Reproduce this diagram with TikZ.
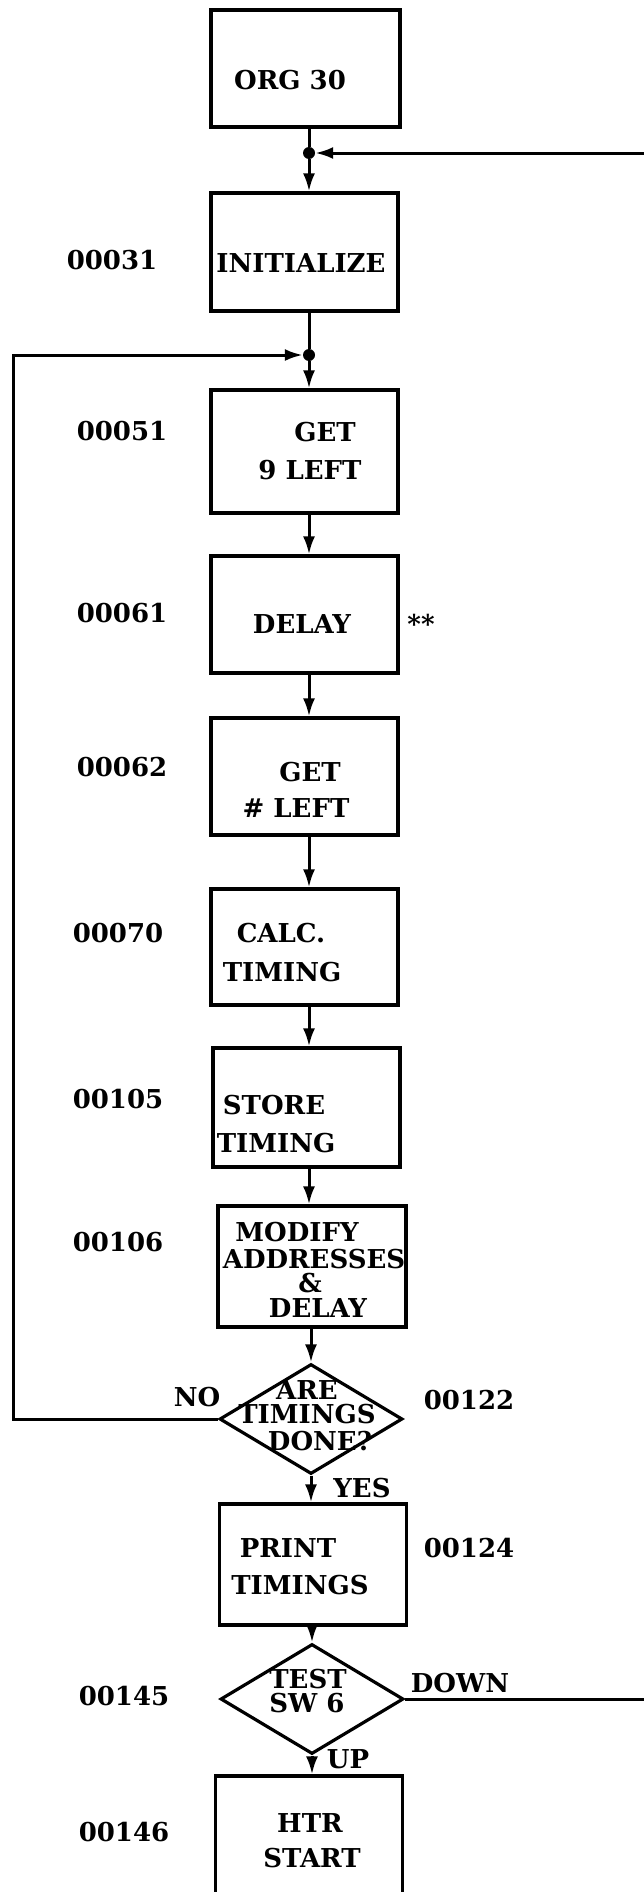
\documentclass[tikz,border=0pt]{standalone}
\usepackage{fontspec}
\setmainfont{DejaVu Serif}
\usetikzlibrary{arrows.meta,shapes.geometric}
\tikzset{
  box/.style={draw, line width=3.2pt, rectangle, inner sep=0pt},
  dia/.style={draw, line width=3.2pt, diamond, inner sep=0pt, minimum width=183pt, minimum height=110pt},
  tx/.style={font=\bfseries\fontsize{26}{26}\selectfont, inner sep=0pt},
  line/.style={line width=3pt},
  arr/.style={line width=3pt, -{Latex[length=18pt,width=12pt]}},
  jdot/.style={circle, fill, inner sep=0pt, minimum size=12pt},
}
\begin{document}
\begin{tikzpicture}[x=1pt,y=-1pt]
\useasboundingbox (0,0) rectangle (644,1892);
\coordinate (col) at (309,0);
% boxes
\node[box, minimum width=189pt, minimum height=117pt] (org) at (305.5,68.5) {};
\node[box, minimum width=187pt, minimum height=118pt] (init) at (304.5,252) {};
\node[box, minimum width=187pt, minimum height=123pt] (get9) at (304.5,451.5) {};
\node[box, minimum width=187pt, minimum height=117pt] (delay) at (304.5,614.5) {};
\node[box, minimum width=187pt, minimum height=117pt] (gethash) at (304.5,776.5) {};
\node[box, minimum width=187pt, minimum height=116pt] (calc) at (304.5,947) {};
\node[box, minimum width=187pt, minimum height=119pt] (store) at (306.5,1107.5) {};
\node[box, minimum width=188pt, minimum height=121pt] (modify) at (312,1266.5) {};
\node[dia] (d1) at (311,1419) {};
\node[box, minimum width=187pt, minimum height=121pt] (print) at (313,1564.5) {};
\node[dia] (d2) at (312,1699) {};
\node[box, minimum width=187pt, minimum height=124pt] (htr) at (309,1838) {};
% junctions
\node[jdot] (dot1) at (309,153) {};
\node[jdot] (dot2) at (309,355) {};
\coordinate (lft) at (13,355);
\coordinate (redge1) at (650,153);
\coordinate (redge2) at (650,1699);
% texts
\node[tx] (t1) at (290,80) {ORG 30};
\node[tx] (t2) at (301,263) {INITIALIZE};
\node[tx] (t3a) at (325,432) {GET};
\node[tx] (t3b) at (310,470) {9 LEFT};
\node[tx] (t4) at (302,624) {DELAY};
\node[tx] (t4s) at (421,624) {**};
\node[tx] (t5a) at (310,772) {GET};
\node[tx] (t5b) at (296,808) {\# LEFT};
\node[tx] (t6a) at (281,933) {CALC.};
\node[tx] (t6b) at (282,972) {TIMING};
\node[tx] (t7a) at (274,1105) {STORE};
\node[tx] (t7b) at (276,1143) {TIMING};
\node[tx] (t8a) at (297,1232) {MODIFY};
\node[tx] (t8b) at (314,1259) {ADDRESSES};
\node[tx] (t8c) at (310,1283) {\&};
\node[tx] (t8d) at (318,1308) {DELAY};
\node[tx] (t9a) at (307,1390) {ARE};
\node[tx] (t9b) at (307,1414) {TIMINGS};
\node[tx] (t9c) at (320,1441) {DONE?};
\node[tx] (t10a) at (288,1548) {PRINT};
\node[tx] (t10b) at (300,1585) {TIMINGS};
\node[tx] (t11a) at (308,1679) {TEST};
\node[tx] (t11b) at (307,1703) {SW 6};
\node[tx] (t12a) at (310,1823) {HTR};
\node[tx] (t12b) at (312,1858) {START};
% addresses and branch labels
\node[tx] (a1) at (112,260) {00031};
\node[tx] (a2) at (122,431) {00051};
\node[tx] (a3) at (122,613) {00061};
\node[tx] (a4) at (122,767) {00062};
\node[tx] (a5) at (118,933) {00070};
\node[tx] (a6) at (118,1099) {00105};
\node[tx] (a7) at (118,1242) {00106};
\node[tx] (a8) at (469,1400) {00122};
\node[tx] (a9) at (469,1548) {00124};
\node[tx] (a10) at (124,1696) {00145};
\node[tx] (a11) at (124,1832) {00146};
\node[tx] (no) at (197,1397) {NO};
\node[tx] (yes) at (362,1488) {YES};
\node[tx] (down) at (460,1683) {DOWN};
\node[tx] (up) at (348,1759) {UP};
% connectors
\draw[line] (org.south -| col) -- (dot1);
\draw[arr] (redge1) -- (dot1);
\draw[arr] (dot1) -- (init.north -| col);
\draw[line] (init.south -| col) -- (dot2);
\draw[arr] (dot2) -- (get9.north -| col);
\draw[arr] (get9.south -| col) -- (delay.north -| col);
\draw[arr] (delay.south -| col) -- (gethash.north -| col);
\draw[arr] (gethash.south -| col) -- (calc.north -| col);
\draw[arr] (calc.south -| col) -- (store.north -| col);
\draw[arr] (store.south -| col) -- (modify.north -| col);
\draw[arr] (modify.south -| d1.north) -- (d1.north);
\draw[arr] (d1.west) -| (lft) -- (dot2);
\draw[arr] (d1.south) -- (d1.south |- print.north);
\draw[arr] (print.south -| d2.north) -- (d2.north);
\draw[line] (d2.east) -- (d2.east -| redge2);
\draw[arr] (d2.south) -- (d2.south |- htr.north);
\end{tikzpicture}
\end{document}
